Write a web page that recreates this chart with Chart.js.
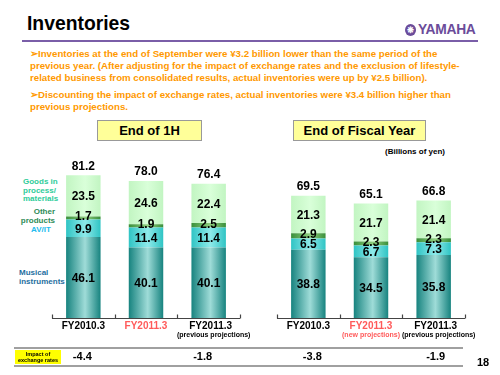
<!DOCTYPE html>
<html>
<head>
<meta charset="utf-8">
<script src="https://cdn.jsdelivr.net/npm/chart.js@4.4.0/dist/chart.umd.min.js"></script>
<style>
  body { margin: 0; background: #fff; font-family: "Liberation Sans", Arial, sans-serif; }
  #page { position: relative; width: 500px; height: 375px; overflow: hidden; }
  .abs { position: absolute; }
  canvas { position: absolute; }
  .title { left: 27px; top: 11px; font-size: 21px; font-weight: bold; color: #000; transform: scaleX(0.92); transform-origin: left; }
  .logo { left: 405px; top: 20px; font-size: 15px; font-weight: bold; color: #6b4c9a; letter-spacing: -0.3px; transform: scaleX(0.92); transform-origin: left; }
  .logo span { display: inline-block; width: 12px; height: 12px; border-radius: 50%; background: #6b4c9a; color: #fff; font-size: 9px; line-height: 12px; text-align: center; vertical-align: 1px; margin-right: 2px; }
  .rule { left: 22px; top: 40px; width: 456px; height: 2px; background: #7a5ea8; }
  .bullets { left: 30px; top: 48px; color: #ff9900; font-size: 9.7px; font-weight: bold; line-height: 12px; white-space: nowrap; }
  .bullets p { margin: 0 0 5px 0; }
  .box { top: 120px; height: 19px; background: #ffff99; border: 1px solid #999; font-weight: bold; font-size: 13px; line-height: 19px; text-align: center; }
  .unit { left: 385px; top: 147px; font-size: 8px; font-weight: bold; }
  .leg { font-size: 8px; font-weight: bold; line-height: 8.5px; }
  .rowline { left: 14px; width: 449px; height: 2px; background: #a0a0a0; }
  .impact { left: 15px; top: 350px; width: 46px; height: 14px; background: #ffff00; font-size: 5.5px; font-weight: bold; line-height: 6px; text-align: center; padding-top: 1px; box-sizing: border-box; }
  .pageno { left: 477px; top: 356px; font-size: 11px; font-weight: bold; }
</style>
</head>
<body>
<div id="page">
  <div class="abs title">Inventories</div>
  <div class="abs logo"><span>&#10059;</span>YAMAHA</div>
  <div class="abs rule"></div>
  <div class="abs bullets">
    <p>&#10146;Inventories at the end of September were &yen;3.2 billion lower than the same period of the<br>previous year. (After adjusting for the impact of exchange rates and the exclusion of lifestyle-<br>related business from consolidated results, actual inventories were up by &yen;2.5 billion).</p>
    <p>&#10146;Discounting the impact of exchange rates, actual inventories were &yen;3.4 billion higher than<br>previous projections.</p>
  </div>
  <div class="abs box" style="left:97px;width:103px;">End of 1H</div>
  <div class="abs box" style="left:293px;width:131px;">End of Fiscal Year</div>
  <div class="abs unit">(Billions of yen)</div>

  <div class="abs leg" style="left:23px;top:178px;color:#2ecc99;">Goods in<br>process/<br>materials</div>
  <div class="abs leg" style="left:18px;top:208px;width:37px;text-align:right;color:#2e8b57;">Other<br>products</div>
  <div class="abs leg" style="left:31px;top:226px;color:#22bbee;">AV/IT</div>
  <div class="abs leg" style="left:19px;top:269px;color:#1f6f9f;">Musical<br>instruments</div>

  <canvas id="chart1H" width="240" height="225" style="left:20px;top:150px;"></canvas>
  <canvas id="chartFY" width="238" height="225" style="left:262px;top:150px;"></canvas>

  <div class="abs rowline" style="top:347px;"></div>
  <div class="abs rowline" style="top:365px;"></div>
  <div class="abs impact">Impact of<br>exchange rates</div>
  <div class="abs pageno">18</div>
</div>

<script>
// data
const categories = ['FY2010.3', 'FY2011.3', 'FY2011.3'];
const labelColors = ['#000000', '#ff5a5a', '#000000'];
const subLabels1H = ['', '', '(previous projections)'];
const subLabelsFY = ['', '(new projections)', '(previous projections)'];

const musical1H = [46.1, 40.1, 40.1];
const avit1H = [9.9, 11.4, 11.4];
const other1H = [1.7, 1.9, 2.5];
const goods1H = [23.5, 24.6, 22.4];
const totals1H = [81.2, 78.0, 76.4];
const impact1H = [-4.4, null, -1.8];

const musicalFY = [38.8, 34.5, 35.8];
const avitFY = [6.5, 6.7, 7.3];
const otherFY = [2.9, 2.3, 2.3];
const goodsFY = [21.3, 21.7, 21.4];
const totalsFY = [69.5, 65.1, 66.8];
const impactFY = [-3.8, null, -1.9];

const BAR_PCT = 0.55;
const FONT = '"Liberation Sans", Arial, sans-serif';
Chart.defaults.font.family = FONT;

// horizontal shading across each bar, like the cylinder look of the original
function barGradient(edge, mid) {
  return (ctx) => {
    const chart = ctx.chart;
    const x = chart.scales.x;
    if (!x || ctx.dataIndex === undefined || !x.width) return edge;
    const cx = x.getPixelForValue(ctx.dataIndex);
    const w = x.width / categories.length * BAR_PCT;
    const g = chart.ctx.createLinearGradient(cx - w / 2, 0, cx + w / 2, 0);
    g.addColorStop(0, edge);
    g.addColorStop(0.55, mid);
    g.addColorStop(1, edge);
    return g;
  };
}

const labelPlugin = {
  id: 'barLabels',
  afterDatasetsDraw(chart, args, opts) {
    const ctx = chart.ctx;
    const area = chart.chartArea;
    const xs = chart.scales.x;
    ctx.save();
    ctx.textAlign = 'center';
    ctx.textBaseline = 'middle';
    ctx.fillStyle = '#000';

    // segment values
    ctx.font = 'bold 12px ' + FONT;
    chart.data.datasets.forEach((ds, i) => {
      chart.getDatasetMeta(i).data.forEach((el, j) => {
        const v = ds.data[j];
        let y = (el.y + el.base) / 2;
        if (v < 4) y -= 2;
        ctx.fillText(v.toFixed(1), el.x, y + 1);
      });
    });

    // totals
    const top = chart.getDatasetMeta(chart.data.datasets.length - 1).data;
    opts.totals.forEach((t, j) => {
      ctx.fillText(t.toFixed(1), top[j].x, top[j].y - 9);
    });

    // axis with upward tick marks at category bounds
    const step = area.width / categories.length;
    const yb = Math.round(area.bottom) + 0.5;
    ctx.strokeStyle = '#444';
    ctx.lineWidth = 1.2;
    ctx.beginPath();
    ctx.moveTo(area.left, yb);
    ctx.lineTo(area.right, yb);
    for (let k = 0; k <= categories.length; k++) {
      const x = Math.round(area.left + k * step) + 0.5;
      ctx.moveTo(x, yb);
      ctx.lineTo(x, yb - 4);
    }
    ctx.stroke();

    // category labels
    categories.forEach((c, j) => {
      const x = xs.getPixelForValue(j);
      const shift = j === 2 ? 2 : 0;
      ctx.fillStyle = labelColors[j];
      ctx.font = 'bold 10px ' + FONT;
      ctx.fillText(c, x + shift, area.bottom + 8);
      if (opts.subs[j]) {
        ctx.font = 'bold 7px ' + FONT;
        ctx.fillText(opts.subs[j], x + (j === 2 ? 5 : 0), area.bottom + 17);
      }
    });

    // impact of exchange rates row
    ctx.fillStyle = '#000';
    ctx.font = 'bold 11px ' + FONT;
    opts.impact.forEach((v, j) => {
      if (v === null) return;
      ctx.fillText(v.toFixed(1), xs.getPixelForValue(j) + opts.impactShift[j], area.bottom + 39);
    });
    ctx.restore();
  }
};

function makeChart(id, musical, avit, other, goods, totals, subs, impact, impactShift, pad) {
  const common = { stack: 's', barPercentage: BAR_PCT, categoryPercentage: 1, borderWidth: 0 };
  return new Chart(document.getElementById(id), {
    type: 'bar',
    data: {
      labels: categories,
      datasets: [
        Object.assign({ label: 'Musical instruments', data: musical, backgroundColor: barGradient('#17837f', '#9fdcd8') }, common),
        Object.assign({ label: 'AV/IT', data: avit, backgroundColor: barGradient('#2fc4c4', '#8eeaea') }, common),
        Object.assign({ label: 'Other products', data: other, backgroundColor: barGradient('#3a8f3a', '#8fcf80') }, common),
        Object.assign({ label: 'Goods in process/materials', data: goods, backgroundColor: barGradient('#c2f5c2', '#d9ffd9') }, common)
      ]
    },
    options: {
      responsive: false,
      animation: false,
      devicePixelRatio: 1,
      layout: { padding: pad },
      plugins: {
        legend: { display: false },
        tooltip: { enabled: false },
        barLabels: { totals: totals, subs: subs, impact: impact, impactShift: impactShift }
      },
      scales: {
        x: { display: false, stacked: true, offset: true },
        y: { display: false, stacked: true, min: 0, max: 95.6 }
      }
    },
    plugins: [labelPlugin]
  });
}

makeChart('chart1H', musical1H, avit1H, other1H, goods1H, totals1H, subLabels1H, impact1H, [-1, 0, -6],
  { left: 32, right: 20, top: 0, bottom: 57 });
makeChart('chartFY', musicalFY, avitFY, otherFY, goodsFY, totalsFY, subLabelsFY, impactFY, [4, 0, 2],
  { left: 15, right: 35, top: 0, bottom: 57 });
</script>
</body>
</html>
